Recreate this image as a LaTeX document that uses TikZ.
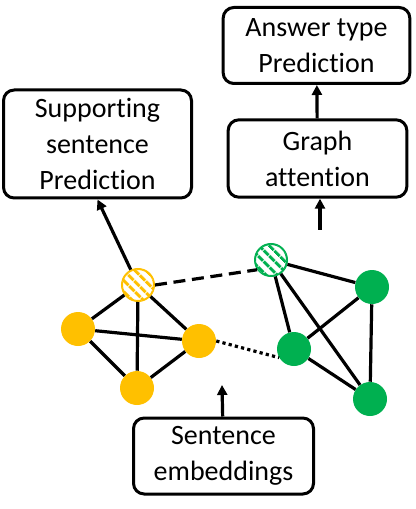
\documentclass[tikz,border=0pt]{standalone}
\usepackage{fontspec}
\setmainfont{Carlito}[Ligatures=NoCommon]
\usetikzlibrary{arrows.meta,patterns.meta}

\definecolor{sentyellow}{HTML}{FFC000}
\definecolor{sentgreen}{HTML}{00B050}

\tikzset{
    box/.style={draw=black, line width=2.25pt, rounded corners=8pt, align=center, inner sep=0pt, font=\fontsize{21}{27}\selectfont},
    arr/.style={-{Triangle[length=7.5pt,width=7.5pt]}, line width=2.4pt},
    sent/.style={circle, minimum size=25.5pt, inner sep=0pt, fill=#1},
    hatched/.style={circle, minimum size=24pt, inner sep=0pt, draw=#1, line width=1.5pt, fill=white,
        postaction={pattern={Lines[angle=-45,distance=6.5pt,line width=2.6pt]}, pattern color=#1}},
    edge/.style={line width=2.4pt}
}

\begin{document}
\begin{tikzpicture}[x=0.75pt, y=-0.75pt]
        \useasboundingbox (0,0) rectangle (415,509);

        % boxes
        \node(support) at (97.5,144)[box, minimum width=141pt, minimum height=81pt]{Supporting\\sentence\\Prediction};
        \node(answer) at (316.5,45.5)[box, minimum width=140pt, minimum height=57pt]{Answer type\\Prediction};
        \node(graph) at (317.5,158.5)[box, minimum width=134pt, minimum height=58pt]{Graph\\attention};
        \node(embed) at (223.5,456)[box, minimum width=135pt, minimum height=57pt]{Sentence\\embeddings};

        % sentence nodes
        \node(ys) at (138,285)[hatched=sentyellow]{};
        \node(yl) at (78,329)[sent=sentyellow]{};
        \node(yr) at (199,341)[sent=sentyellow]{};
        \node(yb) at (137,388)[sent=sentyellow]{};

        \node(gs) at (271,260)[hatched=sentgreen]{};
        \node(gt) at (372,287)[sent=sentgreen]{};
        \node(gm) at (294,349)[sent=sentgreen]{};
        \node(gb) at (370,399)[sent=sentgreen]{};

        \coordinate(gatein) at (320,230);
        \coordinate(embedout) at (222,385);

        % edges
        \foreach \a/\b in {ys/yl, ys/yr, ys/yb, yl/yr, yl/yb, yr/yb, gs/gt, gs/gm, gs/gb, gt/gm, gt/gb, gm/gb}
            \draw[edge] (\a) -- (\b);
        \draw[edge, dash pattern=on 9pt off 5pt] (ys.east) -- (gs.215);
        \draw[edge, dash pattern=on 2.4pt off 2.4pt] (yr.east) -- (gm.210);

        % arrows
        \draw[arr] (ys) -- (support.south);
        \draw[arr] (gatein) -- (gatein |- graph.south);
        \draw[arr] (graph) -- (answer);
        \draw[arr] (embed) -- (embedout);

    \end{tikzpicture}
\end{document}
